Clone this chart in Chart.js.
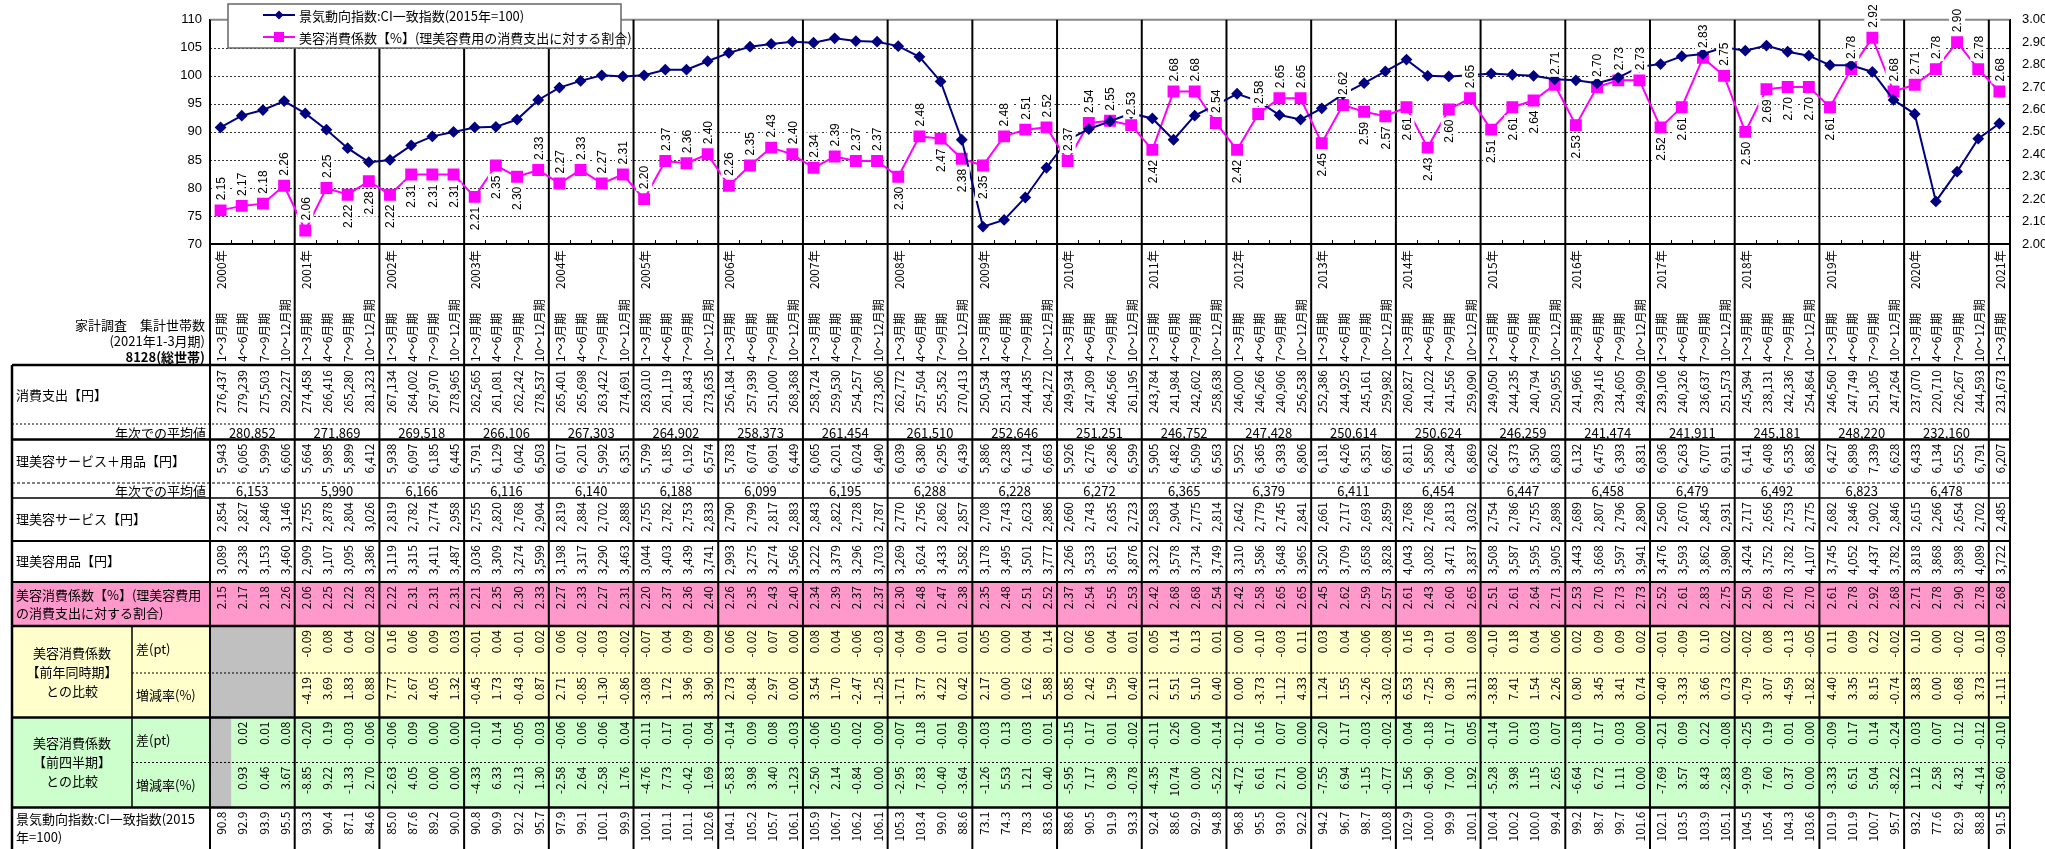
<!DOCTYPE html>
<html>
<head>
<meta charset="utf-8">
<script src="https://cdn.jsdelivr.net/npm/chart.js@4.4.0/dist/chart.umd.min.js"></script>
<style>
html, body { margin: 0; padding: 0; background: #fff; overflow: hidden; }
canvas { display: block; }
</style>
</head>
<body>
<canvas id="c" width="2045" height="849"></canvas>
<script>
const years = ['2000年','2001年','2002年','2003年','2004年','2005年','2006年','2007年','2008年','2009年','2010年',
  '2011年','2012年','2013年','2014年','2015年','2016年','2017年','2018年','2019年','2020年','2021年'];
const quarters = ['1～3月期','4～6月期','7～9月期','10～12月期'];

// 景気動向指数:CI一致指数(2015年=100)
const ci = [90.8,92.9,93.9,95.5, 93.3,90.4,87.1,84.6, 85.0,87.6,89.2,90.0, 90.8,90.9,92.2,95.7,
  97.9,99.1,100.1,99.9, 100.1,101.1,101.1,102.6, 104.1,105.2,105.7,106.1, 105.9,106.7,106.2,106.1,
  105.3,103.4,99.0,88.6, 73.1,74.3,78.3,83.6, 88.6,90.5,91.9,93.3, 92.4,88.6,92.9,94.8,
  96.8,95.5,93.0,92.2, 94.2,96.7,98.7,100.8, 102.9,100.0,99.9,100.1, 100.4,100.2,100.0,99.4,
  99.2,98.7,99.7,101.6, 102.1,103.5,103.9,105.1, 104.5,105.4,104.3,103.6, 101.9,101.9,100.7,95.7,
  93.2,77.6,82.9,88.8, 91.5];

// 美容消費係数【%】
const ratio = [2.15,2.17,2.18,2.26, 2.06,2.25,2.22,2.28, 2.22,2.31,2.31,2.31, 2.21,2.35,2.30,2.33,
  2.27,2.33,2.27,2.31, 2.20,2.37,2.36,2.40, 2.26,2.35,2.43,2.40, 2.34,2.39,2.37,2.37,
  2.30,2.48,2.47,2.38, 2.35,2.48,2.51,2.52, 2.37,2.54,2.55,2.53, 2.42,2.68,2.68,2.54,
  2.42,2.58,2.65,2.65, 2.45,2.62,2.59,2.57, 2.61,2.43,2.60,2.65, 2.51,2.61,2.64,2.71,
  2.53,2.70,2.73,2.73, 2.52,2.61,2.83,2.75, 2.50,2.69,2.70,2.70, 2.61,2.78,2.92,2.68,
  2.71,2.78,2.90,2.78, 2.68];

// 消費支出【円】
const spending = [276437,279239,275503,292227, 274458,266416,265280,281323, 267134,264002,267970,278965,
  262565,261081,262242,278537, 265401,265698,263422,274691, 263010,261119,261843,273635,
  256184,257939,251000,268368, 258724,259530,254257,273306, 262772,257504,255352,270413,
  250534,251343,244435,264272, 249934,247309,246566,261195, 243784,241984,242602,258638,
  246000,246266,240906,256538, 252386,244925,245161,259982, 260827,241022,241556,259090,
  249050,244235,240794,250955, 241966,239416,234605,249909, 239106,240326,236637,251573,
  245394,238131,242336,254864, 246560,247749,251305,247264, 237070,220710,226267,244593, 231673];
const spendingAvg = [280852,271869,269518,266106,267303,264902,258373,261454,261510,252646,251251,
  246752,247428,250614,250624,246259,241474,241911,245181,248220,232160];

// 理美容サービス＋用品【円】
const beautyTotal = [5943,6065,5999,6606, 5664,5985,5899,6412, 5938,6097,6185,6445, 5791,6129,6042,6503,
  6017,6201,5992,6351, 5799,6185,6192,6574, 5783,6074,6091,6449, 6065,6201,6024,6490,
  6039,6380,6295,6439, 5886,6238,6124,6663, 5926,6276,6286,6599, 5905,6482,6509,6563,
  5952,6365,6393,6806, 6181,6426,6351,6687, 6811,5850,6284,6869, 6262,6373,6350,6803,
  6132,6475,6393,6831, 6036,6263,6707,6911, 6141,6408,6535,6882, 6427,6898,7339,6628,
  6433,6134,6552,6791, 6207];
const beautyAvg = [6153,5990,6166,6116,6140,6188,6099,6195,6288,6228,6272,
  6365,6379,6411,6454,6447,6458,6479,6492,6823,6478];

// 理美容サービス【円】
const beautyService = [2854,2827,2846,3146, 2755,2878,2804,3026, 2819,2782,2774,2958, 2755,2820,2768,2904,
  2819,2884,2702,2888, 2755,2782,2753,2833, 2790,2799,2817,2883, 2843,2822,2728,2787,
  2770,2756,2862,2857, 2708,2743,2623,2886, 2660,2743,2635,2723, 2583,2904,2775,2814,
  2642,2779,2745,2841, 2661,2717,2693,2859, 2768,2768,2813,3032, 2754,2786,2755,2898,
  2689,2807,2796,2890, 2560,2670,2845,2931, 2717,2656,2753,2775, 2682,2846,2902,2846,
  2615,2266,2654,2702, 2485];

// 理美容用品【円】
const beautyGoods = [3089,3238,3153,3460, 2909,3107,3095,3386, 3119,3315,3411,3487, 3036,3309,3274,3599,
  3198,3317,3290,3463, 3044,3403,3439,3741, 2993,3275,3274,3566, 3222,3379,3296,3703,
  3269,3624,3433,3582, 3178,3495,3501,3777, 3266,3533,3651,3876, 3322,3578,3734,3749,
  3310,3586,3648,3965, 3520,3709,3658,3828, 4043,3082,3471,3837, 3508,3587,3595,3905,
  3443,3668,3597,3941, 3476,3593,3862,3980, 3424,3752,3782,4107, 3745,4052,4437,3782,
  3818,3868,3898,4089, 3722];

// 前年同時期との比較
const yoyDiff = [null,null,null,null, -0.09,0.08,0.04,0.02, 0.16,0.06,0.09,0.03, -0.01,0.04,-0.01,0.02,
  0.06,-0.02,-0.03,-0.02, -0.07,0.04,0.09,0.09, 0.06,-0.02,0.07,0.00, 0.08,0.04,-0.06,-0.03,
  -0.04,0.09,0.10,0.01, 0.05,0.00,0.04,0.14, 0.02,0.06,0.04,0.01, 0.05,0.14,0.13,0.01,
  0.00,-0.10,-0.03,0.11, 0.03,0.04,-0.06,-0.08, 0.16,-0.19,0.01,0.08, -0.10,0.18,0.04,0.06,
  0.02,0.09,0.09,0.02, -0.01,-0.09,0.10,0.02, -0.02,0.08,-0.13,-0.05, 0.11,0.09,0.22,-0.02,
  0.10,0.00,-0.02,0.10, -0.03];
const yoyRate = [null,null,null,null, -4.19,3.69,1.83,0.88, 7.77,2.67,4.05,1.32, -0.45,1.73,-0.43,0.87,
  2.71,-0.85,-1.30,-0.86, -3.08,1.72,3.96,3.90, 2.73,-0.84,2.97,0.00, 3.54,1.70,-2.47,-1.25,
  -1.71,3.77,4.22,0.42, 2.17,0.00,1.62,5.88, 0.85,2.42,1.59,0.40, 2.11,5.51,5.10,0.40,
  0.00,-3.73,-1.12,4.33, 1.24,1.55,-2.26,-3.02, 6.53,-7.25,0.39,3.11, -3.83,7.41,1.54,2.26,
  0.80,3.45,3.41,0.74, -0.40,-3.33,3.66,0.73, -0.79,3.07,-4.59,-1.82, 4.40,3.35,8.15,-0.74,
  3.83,0.00,-0.68,3.73, -1.11];

// 前四半期との比較
const qoqDiff = [null,0.02,0.01,0.08, -0.20,0.19,-0.03,0.06, -0.06,0.09,0.00,0.00, -0.10,0.14,-0.05,0.03,
  -0.06,0.06,-0.06,0.04, -0.11,0.17,-0.01,0.04, -0.14,0.09,0.08,-0.03, -0.06,0.05,-0.02,0.00,
  -0.07,0.18,-0.01,-0.09, -0.03,0.13,0.03,0.01, -0.15,0.17,0.01,-0.02, -0.11,0.26,0.00,-0.14,
  -0.12,0.16,0.07,0.00, -0.20,0.17,-0.03,-0.02, 0.04,-0.18,0.17,0.05, -0.14,0.10,0.03,0.07,
  -0.18,0.17,0.03,0.00, -0.21,0.09,0.22,-0.08, -0.25,0.19,0.01,0.00, -0.09,0.17,0.14,-0.24,
  0.03,0.07,0.12,-0.12, -0.10];
const qoqRate = [null,0.93,0.46,3.67, -8.85,9.22,-1.33,2.70, -2.63,4.05,0.00,0.00, -4.33,6.33,-2.13,1.30,
  -2.58,2.64,-2.58,1.76, -4.76,7.73,-0.42,1.69, -5.83,3.98,3.40,-1.23, -2.50,2.14,-0.84,0.00,
  -2.95,7.83,-0.40,-3.64, -1.26,5.53,1.21,0.40, -5.95,7.17,0.39,-0.78, -4.35,10.74,0.00,-5.22,
  -4.72,6.61,2.71,0.00, -7.55,6.94,-1.15,-0.77, 1.56,-6.90,7.00,1.92, -5.28,3.98,1.15,2.65,
  -6.64,6.72,1.11,0.00, -7.69,3.57,8.43,-2.83, -9.09,7.60,0.37,0.00, -3.33,6.51,5.04,-8.22,
  1.12,2.58,4.32,-4.14, -3.60];

// ratio labels drawn under the point instead of above it
const labelBelow = [6,7,8,9,10,11,12,13,14,32,34,35,36,44,48,52,54,55,56,57,58,60,61,62,64,68,69,72,73,74,75,76];

const labels = [];
years.forEach(yr => quarters.forEach(q => { if (labels.length < ci.length) labels.push(q + ' ' + yr); }));

const JP = '"Noto Sans CJK JP", "Noto Sans", sans-serif';
const NUM = '"Liberation Sans", Arial, sans-serif';

function vtext(ctx, str, x, y, align, font, bg) {
    ctx.save();
    ctx.translate(x, y);
    ctx.rotate(-Math.PI / 2);
    ctx.font = font;
    ctx.textAlign = align;
    ctx.textBaseline = 'middle';
    if (bg) {
        const w = ctx.measureText(str).width;
        ctx.fillStyle = '#fff';
        ctx.fillRect(align === 'left' ? -2 : -w - 2, -8, w + 4, 16);
    }
    ctx.fillStyle = '#000';
    ctx.fillText(str, 0, 1);
    ctx.restore();
}

function hline(ctx, x0, x1, y, w, dash) {
    ctx.save();
    ctx.lineWidth = w;
    ctx.strokeStyle = '#000';
    ctx.setLineDash(dash || []);
    ctx.beginPath();
    ctx.moveTo(x0, y);
    ctx.lineTo(x1, y);
    ctx.stroke();
    ctx.restore();
}

function vline(ctx, x, y0, y1, w) {
    ctx.save();
    ctx.lineWidth = w;
    ctx.strokeStyle = '#000';
    ctx.beginPath();
    ctx.moveTo(x, y0);
    ctx.lineTo(x, y1);
    ctx.stroke();
    ctx.restore();
}

const fmtInt = v => v.toLocaleString('en-US');
const fmt2 = v => v.toFixed(2);
const fmt1 = v => v.toFixed(1);

const tablePlugin = {
    id: 'table',
    beforeDatasetsDraw(chart) {
        const { ctx, chartArea: a, scales: { x, y } } = chart;
        const H = chart.height;
        const colX = i => x.getPixelForValue(i);
        const half = (colX(1) - colX(0)) / 2;
        const L = 12, R = a.right;
        const yearEdge = k => k * 4 >= ci.length ? R : (k === 0 ? a.left : colX(k * 4) - half);

        // gridlines
        ctx.save();
        ctx.strokeStyle = '#333';
        ctx.lineWidth = 1;
        ctx.setLineDash([2, 2]);
        for (let v = 75; v < 110; v += 5) {
            const py = Math.round(y.getPixelForValue(v)) + 0.5;
            ctx.beginPath(); ctx.moveTo(a.left, py); ctx.lineTo(a.right, py); ctx.stroke();
        }
        ctx.restore();
        ctx.save();
        ctx.strokeStyle = '#888'; ctx.lineWidth = 2;
        ctx.beginPath(); ctx.moveTo(a.left, a.top); ctx.lineTo(a.right, a.top); ctx.stroke();
        ctx.restore();

        // row layout of the table
        const rows = {
            spend: [366, 424], avg1: [424, 439.5], total: [439.5, 483], avg2: [483, 498],
            service: [498, 541], goods: [541, 582], ratio: [582, 626],
            yoyDiff: [626, 673], yoyRate: [673, 717.5], qoqDiff: [717.5, 762.5], qoqRate: [762.5, 807.5],
            ci: [807.5, H]
        };
        const subX = 132;

        // backgrounds
        ctx.fillStyle = '#ff99cc';
        ctx.fillRect(L, rows.ratio[0], R - L, rows.ratio[1] - rows.ratio[0]);
        ctx.fillStyle = '#ffffcc';
        ctx.fillRect(L, rows.yoyDiff[0], R - L, rows.yoyRate[1] - rows.yoyDiff[0]);
        ctx.fillStyle = '#ccffcc';
        ctx.fillRect(L, rows.qoqDiff[0], R - L, rows.qoqRate[1] - rows.qoqDiff[0]);
        // grey cells where no comparison exists
        ctx.fillStyle = '#c0c0c0';
        const yoyGap = yoyDiff.filter(v => v === null).length;
        const qoqGap = qoqDiff.filter(v => v === null).length;
        ctx.fillRect(a.left, rows.yoyDiff[0], colX(yoyGap) - half - a.left, rows.yoyRate[1] - rows.yoyDiff[0]);
        ctx.fillRect(a.left, rows.qoqDiff[0], colX(qoqGap) - half - a.left, rows.qoqRate[1] - rows.qoqDiff[0]);

        // category ticks on the x axis
        ctx.save();
        ctx.strokeStyle = '#000'; ctx.lineWidth = 1;
        for (let i = 1; i < labels.length; i++) {
            if (i % 4 === 0) continue;
            const px = Math.round(colX(i) - half) + 0.5;
            ctx.beginPath(); ctx.moveTo(px, a.bottom); ctx.lineTo(px, a.bottom - 4); ctx.stroke();
        }
        ctx.restore();
        // small inward ticks on the right axis
        ctx.save();
        ctx.strokeStyle = '#000'; ctx.lineWidth = 1;
        for (let v = 75; v < 110; v += 5) {
            const py = Math.round(y.getPixelForValue(v)) + 0.5;
            ctx.beginPath(); ctx.moveTo(a.right, py); ctx.lineTo(a.right - 4, py); ctx.stroke();
        }
        ctx.restore();

        // year separators through chart and table
        for (let k = 0; k <= years.length; k++) {
            const ex = yearEdge(k);
            vline(ctx, ex, a.top, H, 2);
            if (ex === R) break;
        }

        // table horizontal rules
        hline(ctx, L, R, 365, 2.5);
        hline(ctx, L, R, rows.avg1[0], 1, [2, 2]);
        hline(ctx, L, R, rows.total[0], 2.5);
        hline(ctx, L, R, rows.avg2[0], 1, [3, 2]);
        hline(ctx, L, R, rows.service[0], 1.5);
        hline(ctx, L, R, rows.goods[0], 2);
        hline(ctx, L, R, rows.ratio[0], 2);
        hline(ctx, L, R, rows.yoyDiff[0], 2.5);
        hline(ctx, subX, R, rows.yoyRate[0], 1, [2, 2]);
        hline(ctx, L, R, rows.qoqDiff[0], 2.5);
        hline(ctx, subX, R, rows.qoqRate[0], 1, [2, 2]);
        hline(ctx, L, R, rows.ci[0], 2.5);
        vline(ctx, L, 365, H, 2.5);
        vline(ctx, subX, rows.yoyDiff[0], rows.qoqRate[1], 1.5);

        // category labels under the axis
        const hdrFont = '12px ' + JP;
        labels.forEach((_, i) => {
            vtext(ctx, quarters[i % 4], colX(i), 362, 'left', hdrFont);
            if (i % 4 === 0) vtext(ctx, years[i / 4], colX(i), 289, 'left', hdrFont);
        });

        // quarterly values
        const cellFont = '12px ' + JP;
        const put = (arr, row, f) => arr.forEach((v, i) => {
            if (v !== null) vtext(ctx, f(v), colX(i), rows[row][0] + 4, 'right', cellFont);
        });
        put(spending, 'spend', fmtInt);
        put(beautyTotal, 'total', fmtInt);
        put(beautyService, 'service', fmtInt);
        put(beautyGoods, 'goods', fmtInt);
        put(ratio, 'ratio', fmt2);
        put(yoyDiff, 'yoyDiff', fmt2);
        put(yoyRate, 'yoyRate', fmt2);
        put(qoqDiff, 'qoqDiff', fmt2);
        put(qoqRate, 'qoqRate', fmt2);
        put(ci, 'ci', fmt1);

        // annual averages
        ctx.save();
        ctx.font = '13px ' + JP;
        ctx.fillStyle = '#000';
        ctx.textAlign = 'center';
        ctx.textBaseline = 'middle';
        spendingAvg.forEach((v, k) => {
            const cx = (yearEdge(k) + yearEdge(k + 1)) / 2;
            ctx.fillText(fmtInt(v), cx, (rows.avg1[0] + rows.avg1[1]) / 2 + 1);
        });
        beautyAvg.forEach((v, k) => {
            const cx = (yearEdge(k) + yearEdge(k + 1)) / 2;
            ctx.fillText(fmtInt(v), cx, (rows.avg2[0] + rows.avg2[1]) / 2 + 1);
        });

        // left side labels
        const mid = r => (rows[r][0] + rows[r][1]) / 2;
        ctx.font = '13px ' + JP;
        ctx.textAlign = 'right';
        ctx.fillText('家計調査　集計世帯数', 205, 325);
        ctx.fillText('(2021年1-3月期)', 205, 341);
        ctx.font = 'bold 13px ' + JP;
        ctx.fillText('8128(総世帯)', 205, 357);
        ctx.font = '13px ' + JP;
        ctx.fillText('年次での平均値', 206, mid('avg1') + 1);
        ctx.fillText('年次での平均値', 206, mid('avg2') + 1);
        ctx.textAlign = 'left';
        ctx.fillText('消費支出【円】', 16, mid('spend'));
        ctx.fillText('理美容サービス＋用品【円】', 16, mid('total'));
        ctx.fillText('理美容サービス【円】', 16, mid('service'));
        ctx.fillText('理美容用品【円】', 16, mid('goods'));
        ctx.fillText('美容消費係数【%】(理美容費用', 16, mid('ratio') - 9);
        ctx.fillText('の消費支出に対する割合)', 16, mid('ratio') + 9);
        ctx.fillText('差(pt)', 136, mid('yoyDiff'));
        ctx.fillText('増減率(%)', 136, mid('yoyRate'));
        ctx.fillText('差(pt)', 136, mid('qoqDiff'));
        ctx.fillText('増減率(%)', 136, mid('qoqRate'));
        ctx.fillText('景気動向指数:CI一致指数(2015', 16, mid('ci') - 9);
        ctx.fillText('年=100)', 16, mid('ci') + 9);
        ctx.textAlign = 'center';
        const yc = (rows.yoyDiff[0] + rows.yoyRate[1]) / 2;
        ctx.fillText('美容消費係数', 72, yc - 19);
        ctx.fillText('【前年同時期】', 72, yc);
        ctx.fillText('との比較', 72, yc + 19);
        const gc = (rows.qoqDiff[0] + rows.qoqRate[1]) / 2;
        ctx.fillText('美容消費係数', 72, gc - 19);
        ctx.fillText('【前四半期】', 72, gc);
        ctx.fillText('との比較', 72, gc + 19);
        ctx.restore();
    },
    afterDatasetsDraw(chart) {
        const { ctx, scales: { x, y2 } } = chart;
        // ratio value labels
        ratio.forEach((v, i) => {
            const px = x.getPixelForValue(i);
            const py = y2.getPixelForValue(v);
            if (labelBelow.includes(i)) vtext(ctx, fmt2(v), px, py + 10, 'right', '12px ' + NUM, true);
            else vtext(ctx, fmt2(v), px, py - 10, 'left', '12px ' + NUM, true);
        });

        // legend box
        const ds = chart.data.datasets;
        ctx.save();
        ctx.fillStyle = '#fff';
        ctx.fillRect(228, 4, 393, 44);
        ctx.strokeStyle = '#666';
        ctx.lineWidth = 1.5;
        ctx.strokeRect(228, 4, 393, 44);
        [15, 37].forEach((ly, k) => {
            ctx.strokeStyle = ds[k].borderColor;
            ctx.lineWidth = 2;
            ctx.beginPath(); ctx.moveTo(263, ly); ctx.lineTo(295, ly); ctx.stroke();
            ctx.fillStyle = ds[k].borderColor;
            if (k === 0) {
                ctx.beginPath();
                ctx.moveTo(279, ly - 4.5); ctx.lineTo(283.5, ly); ctx.lineTo(279, ly + 4.5); ctx.lineTo(274.5, ly);
                ctx.closePath(); ctx.fill();
            } else {
                ctx.fillRect(274, ly - 5, 10, 10);
            }
            ctx.fillStyle = '#000';
            ctx.font = '13px ' + JP;
            ctx.textAlign = 'left';
            ctx.textBaseline = 'middle';
            ctx.fillText(ds[k].label, 299, ly + 1);
        });
        ctx.restore();
    }
};

new Chart(document.getElementById('c'), {
    type: 'line',
    data: {
        labels: labels,
        datasets: [
            {
                label: '景気動向指数:CI一致指数(2015年=100)',
                data: ci,
                yAxisID: 'y',
                borderColor: '#000080',
                backgroundColor: '#000080',
                borderWidth: 2,
                pointStyle: 'rectRot',
                pointRadius: 4.5,
                tension: 0
            },
            {
                label: '美容消費係数【%】(理美容費用の消費支出に対する割合)',
                data: ratio,
                yAxisID: 'y2',
                borderColor: '#ff00ff',
                backgroundColor: '#ff00ff',
                borderWidth: 2,
                pointStyle: 'rect',
                pointRadius: 7,
                tension: 0
            }
        ]
    },
    options: {
        responsive: false,
        devicePixelRatio: 1,
        animation: false,
        layout: { padding: { left: 0, right: 0, top: 7, bottom: 605 } },
        plugins: { legend: { display: false }, tooltip: { enabled: false } },
        scales: {
            x: {
                offset: true,
                ticks: { display: false },
                grid: { display: false, drawTicks: false },
                border: { display: true, color: '#000', width: 2 },
                afterFit: s => { s.height = 0; }
            },
            y: {
                position: 'left',
                min: 70, max: 110,
                ticks: { stepSize: 5, padding: 8, color: '#000', font: { family: NUM, size: 13 } },
                grid: { display: false, drawTicks: false },
                border: { display: true, color: '#000', width: 2 },
                afterFit: s => { s.width = 210; }
            },
            y2: {
                position: 'right',
                min: 2, max: 3,
                ticks: { stepSize: 0.1, padding: 12, color: '#000', font: { family: NUM, size: 13 }, callback: v => v.toFixed(2) },
                grid: { display: false, drawTicks: false },
                border: { display: true, color: '#000', width: 2 },
                afterFit: s => { s.width = 35; }
            }
        }
    },
    plugins: [tablePlugin]
});
</script>
</body>
</html>
